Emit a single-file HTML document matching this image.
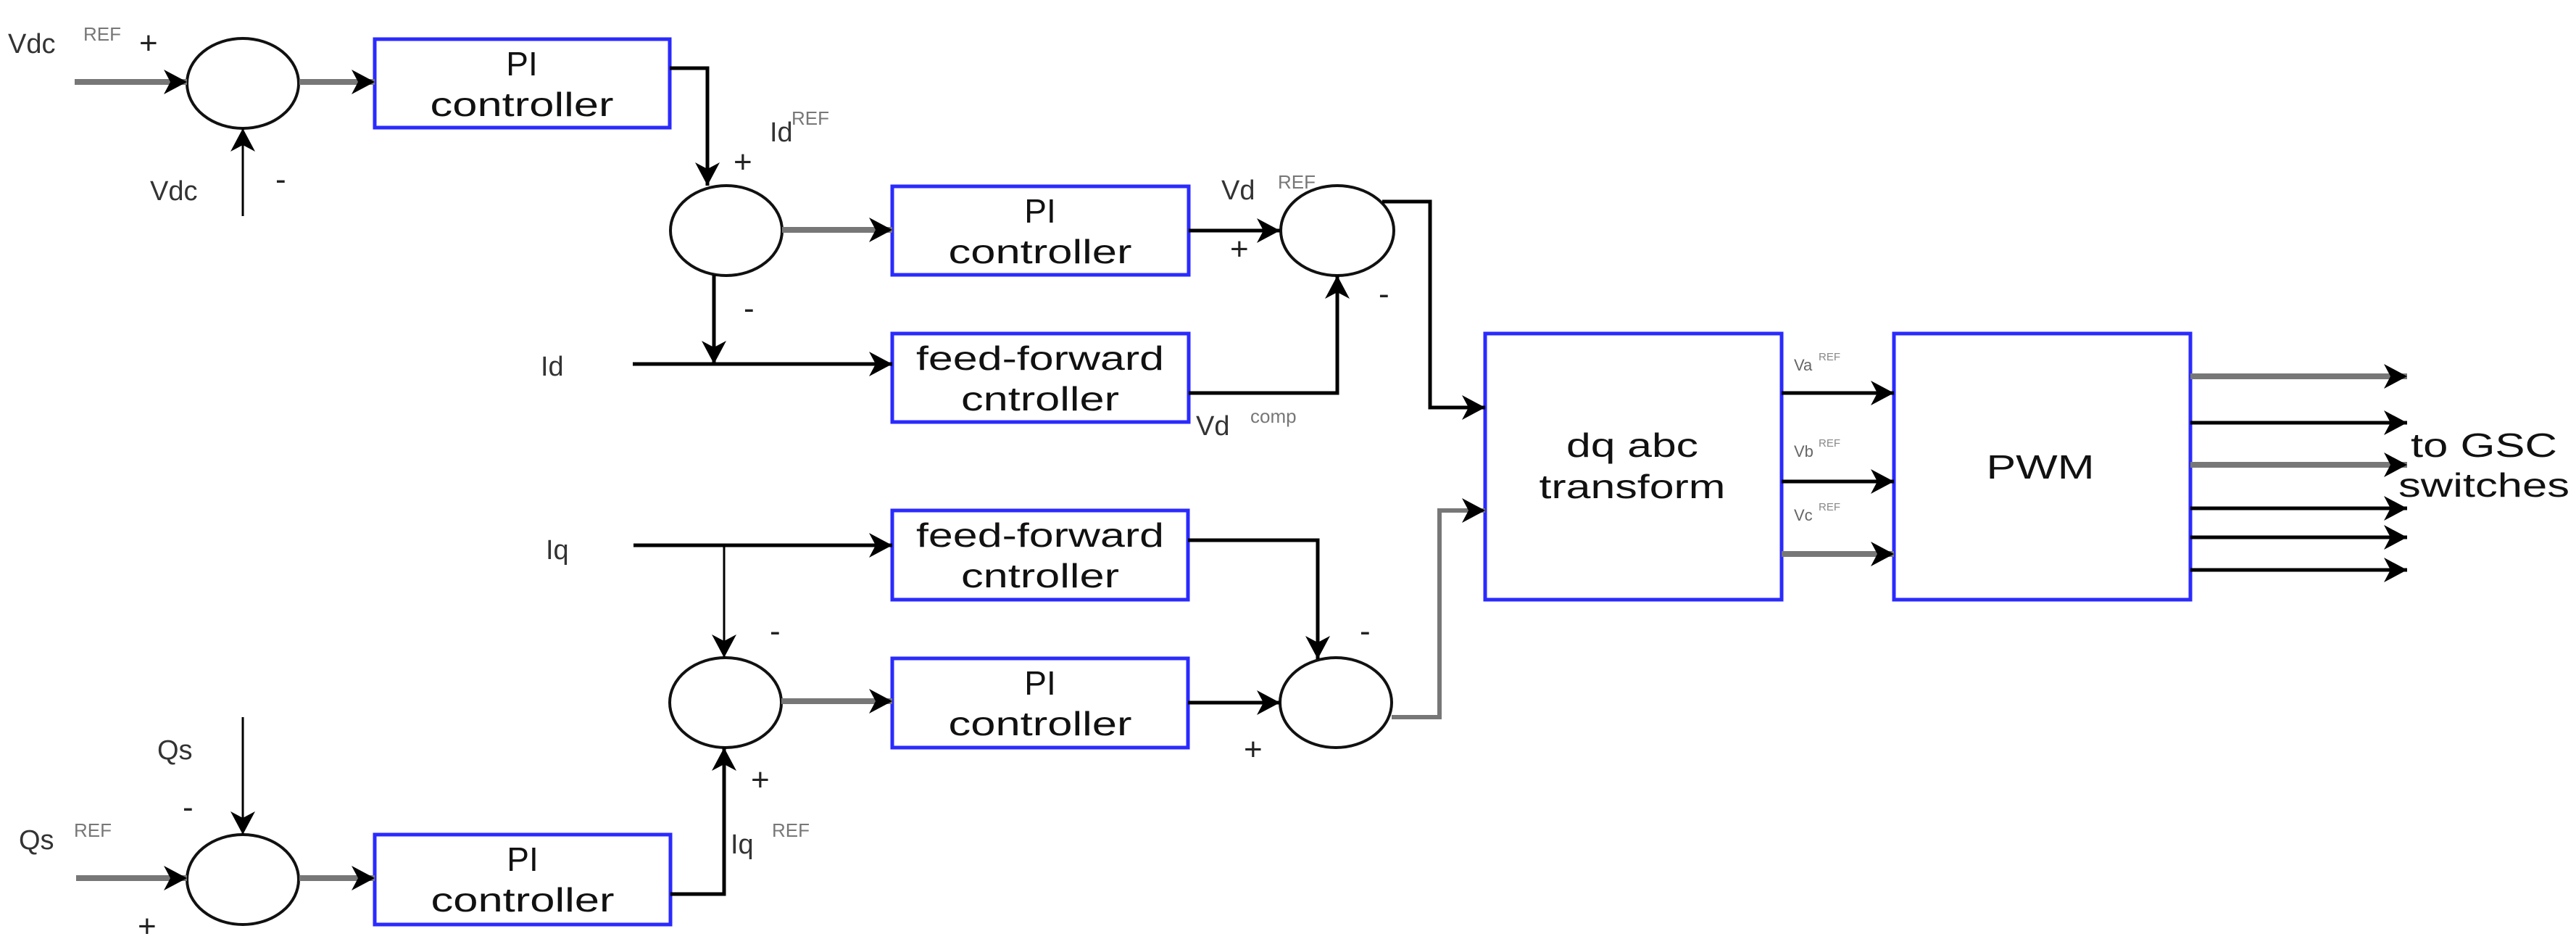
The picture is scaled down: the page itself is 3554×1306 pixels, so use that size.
<!DOCTYPE html>
<html><head><meta charset="utf-8"><style>
html,body{margin:0;padding:0;background:#fff;}
svg{display:block;}
text{font-family:"Liberation Sans",Arial,sans-serif;}
.t{font-size:46px;fill:#111;}
.l{font-size:38px;fill:#333;}
.s{font-size:26px;fill:#777;}
.p{font-size:44px;fill:#222;}
.v{font-size:22px;fill:#666;}
.vs{font-size:15px;fill:#888;}
</style></head><body>
<svg width="3554" height="1306" viewBox="0 0 3554 1306" xmlns="http://www.w3.org/2000/svg">
<defs>
<marker id="a" viewBox="0 0 32 34" refX="32" refY="17" markerWidth="32" markerHeight="34" markerUnits="userSpaceOnUse" orient="auto">
<path d="M0,0 L32,17 L0,34 L9,17 z" fill="#000"/>
</marker>
</defs>
<rect width="3554" height="1306" fill="#fff"/>
<g fill="none" stroke="#2a2aff" stroke-width="5">
<rect x="517" y="54" width="407" height="122"/>
<rect x="1231" y="257" width="409" height="122"/>
<rect x="1231" y="460" width="409" height="122"/>
<rect x="1231" y="704" width="408" height="123"/>
<rect x="1231" y="908" width="408" height="123"/>
<rect x="517" y="1151" width="408" height="124"/>
<rect x="2049" y="460" width="409" height="367"/>
<rect x="2613" y="460" width="409" height="367"/>
</g>
<g fill="none" stroke="#111" stroke-width="4">
<ellipse cx="335" cy="115" rx="77" ry="62"/>
<ellipse cx="1002" cy="318" rx="77" ry="62"/>
<ellipse cx="1845" cy="318" rx="78" ry="62"/>
<ellipse cx="1001" cy="969" rx="77" ry="62"/>
<ellipse cx="1843" cy="969" rx="77" ry="62"/>
<ellipse cx="335" cy="1213" rx="77" ry="62"/>
</g>
<g fill="none" stroke="#777" stroke-width="8" marker-end="url(#a)">
<path d="M103,113 H258"/>
<path d="M413,113 H517"/>
<path d="M1079,317 H1231"/>
<path d="M1078,967 H1231"/>
<path d="M105,1211 H258"/>
<path d="M413,1211 H517"/>
<path d="M2458,764 H2613"/>
<path d="M3022,519 H3321"/>
<path d="M3022,641 H3321"/>
</g>
<g fill="none" stroke="#777" stroke-width="6" marker-end="url(#a)">
<path d="M1920,989 H1986 V704 H2049"/>
</g>
<g fill="none" stroke="#000" stroke-width="5" marker-end="url(#a)">
<path d="M924,94 H976 V256"/>
<path d="M985,379 V502"/>
<path d="M873,502 H1231"/>
<path d="M1640,318 H1766"/>
<path d="M1640,542 H1845 V380"/>
<path d="M1907,278 H1973 V562 H2049"/>
<path d="M2458,542 H2613"/>
<path d="M2458,664 H2613"/>
<path d="M3022,583 H3321"/>
<path d="M3022,701 H3321"/>
<path d="M3022,741 H3321"/>
<path d="M3022,786 H3321"/>
<path d="M874,752 H1231"/>
<path d="M1639,745 H1818 V909"/>
<path d="M1639,969 H1766"/>
<path d="M925,1233 H999 V1031"/>
</g>
<g fill="none" stroke="#000" stroke-width="3" marker-end="url(#a)">
<path d="M335,298 V177"/>
<path d="M999,752 V907"/>
<path d="M335,989 V1151"/>
</g>
<!-- box text -->
<g class="t" text-anchor="middle">
<text x="720" y="104">PI</text>
<text x="720" y="160" textLength="253" lengthAdjust="spacingAndGlyphs">controller</text>
<text x="1435" y="307">PI</text>
<text x="1435" y="363" textLength="253" lengthAdjust="spacingAndGlyphs">controller</text>
<text x="1435" y="510" textLength="342" lengthAdjust="spacingAndGlyphs">feed-forward</text>
<text x="1435" y="566" textLength="218" lengthAdjust="spacingAndGlyphs">cntroller</text>
<text x="1435" y="754" textLength="342" lengthAdjust="spacingAndGlyphs">feed-forward</text>
<text x="1435" y="810" textLength="218" lengthAdjust="spacingAndGlyphs">cntroller</text>
<text x="1435" y="958">PI</text>
<text x="1435" y="1014" textLength="253" lengthAdjust="spacingAndGlyphs">controller</text>
<text x="721" y="1201">PI</text>
<text x="721" y="1257" textLength="253" lengthAdjust="spacingAndGlyphs">controller</text>
<text x="2252" y="630" textLength="182" lengthAdjust="spacingAndGlyphs">dq abc</text>
<text x="2252" y="687" textLength="257" lengthAdjust="spacingAndGlyphs">transform</text>
<text x="2815" y="660" textLength="149" lengthAdjust="spacingAndGlyphs">PWM</text>
<text x="3427" y="630" textLength="202" lengthAdjust="spacingAndGlyphs">to GSC</text>
<text x="3427" y="685" textLength="236" lengthAdjust="spacingAndGlyphs">switches</text>
</g>
<!-- labels -->
<g class="l">
<text x="11" y="73">Vdc</text>
<text x="207" y="276">Vdc</text>
<text x="1062" y="195">Id</text>
<text x="746" y="518">Id</text>
<text x="1685" y="275">Vd</text>
<text x="1650" y="600">Vd</text>
<text x="753" y="771">Iq</text>
<text x="217" y="1047">Qs</text>
<text x="26" y="1171">Qs</text>
<text x="1008" y="1177">Iq</text>
</g>
<g class="s">
<text x="115" y="56">REF</text>
<text x="1092" y="172">REF</text>
<text x="1763" y="260">REF</text>
<text x="1725" y="583">comp</text>
<text x="102" y="1154">REF</text>
<text x="1065" y="1154">REF</text>
</g>
<g class="p">
<text x="192" y="74">+</text>
<text x="380" y="262">-</text>
<text x="1012" y="238">+</text>
<text x="1026" y="440">-</text>
<text x="1697" y="358">+</text>
<text x="1902" y="420">-</text>
<text x="1062" y="885">-</text>
<text x="1876" y="885">-</text>
<text x="1716" y="1048">+</text>
<text x="252" y="1128">-</text>
<text x="190" y="1292">+</text>
<text x="1036" y="1090">+</text>
</g>
<g>
<text class="v" x="2475" y="511">Va</text><text class="vs" x="2509" y="497">REF</text>
<text class="v" x="2475" y="630">Vb</text><text class="vs" x="2509" y="616">REF</text>
<text class="v" x="2475" y="718">Vc</text><text class="vs" x="2509" y="704">REF</text>
</g>
</svg>
</body></html>
